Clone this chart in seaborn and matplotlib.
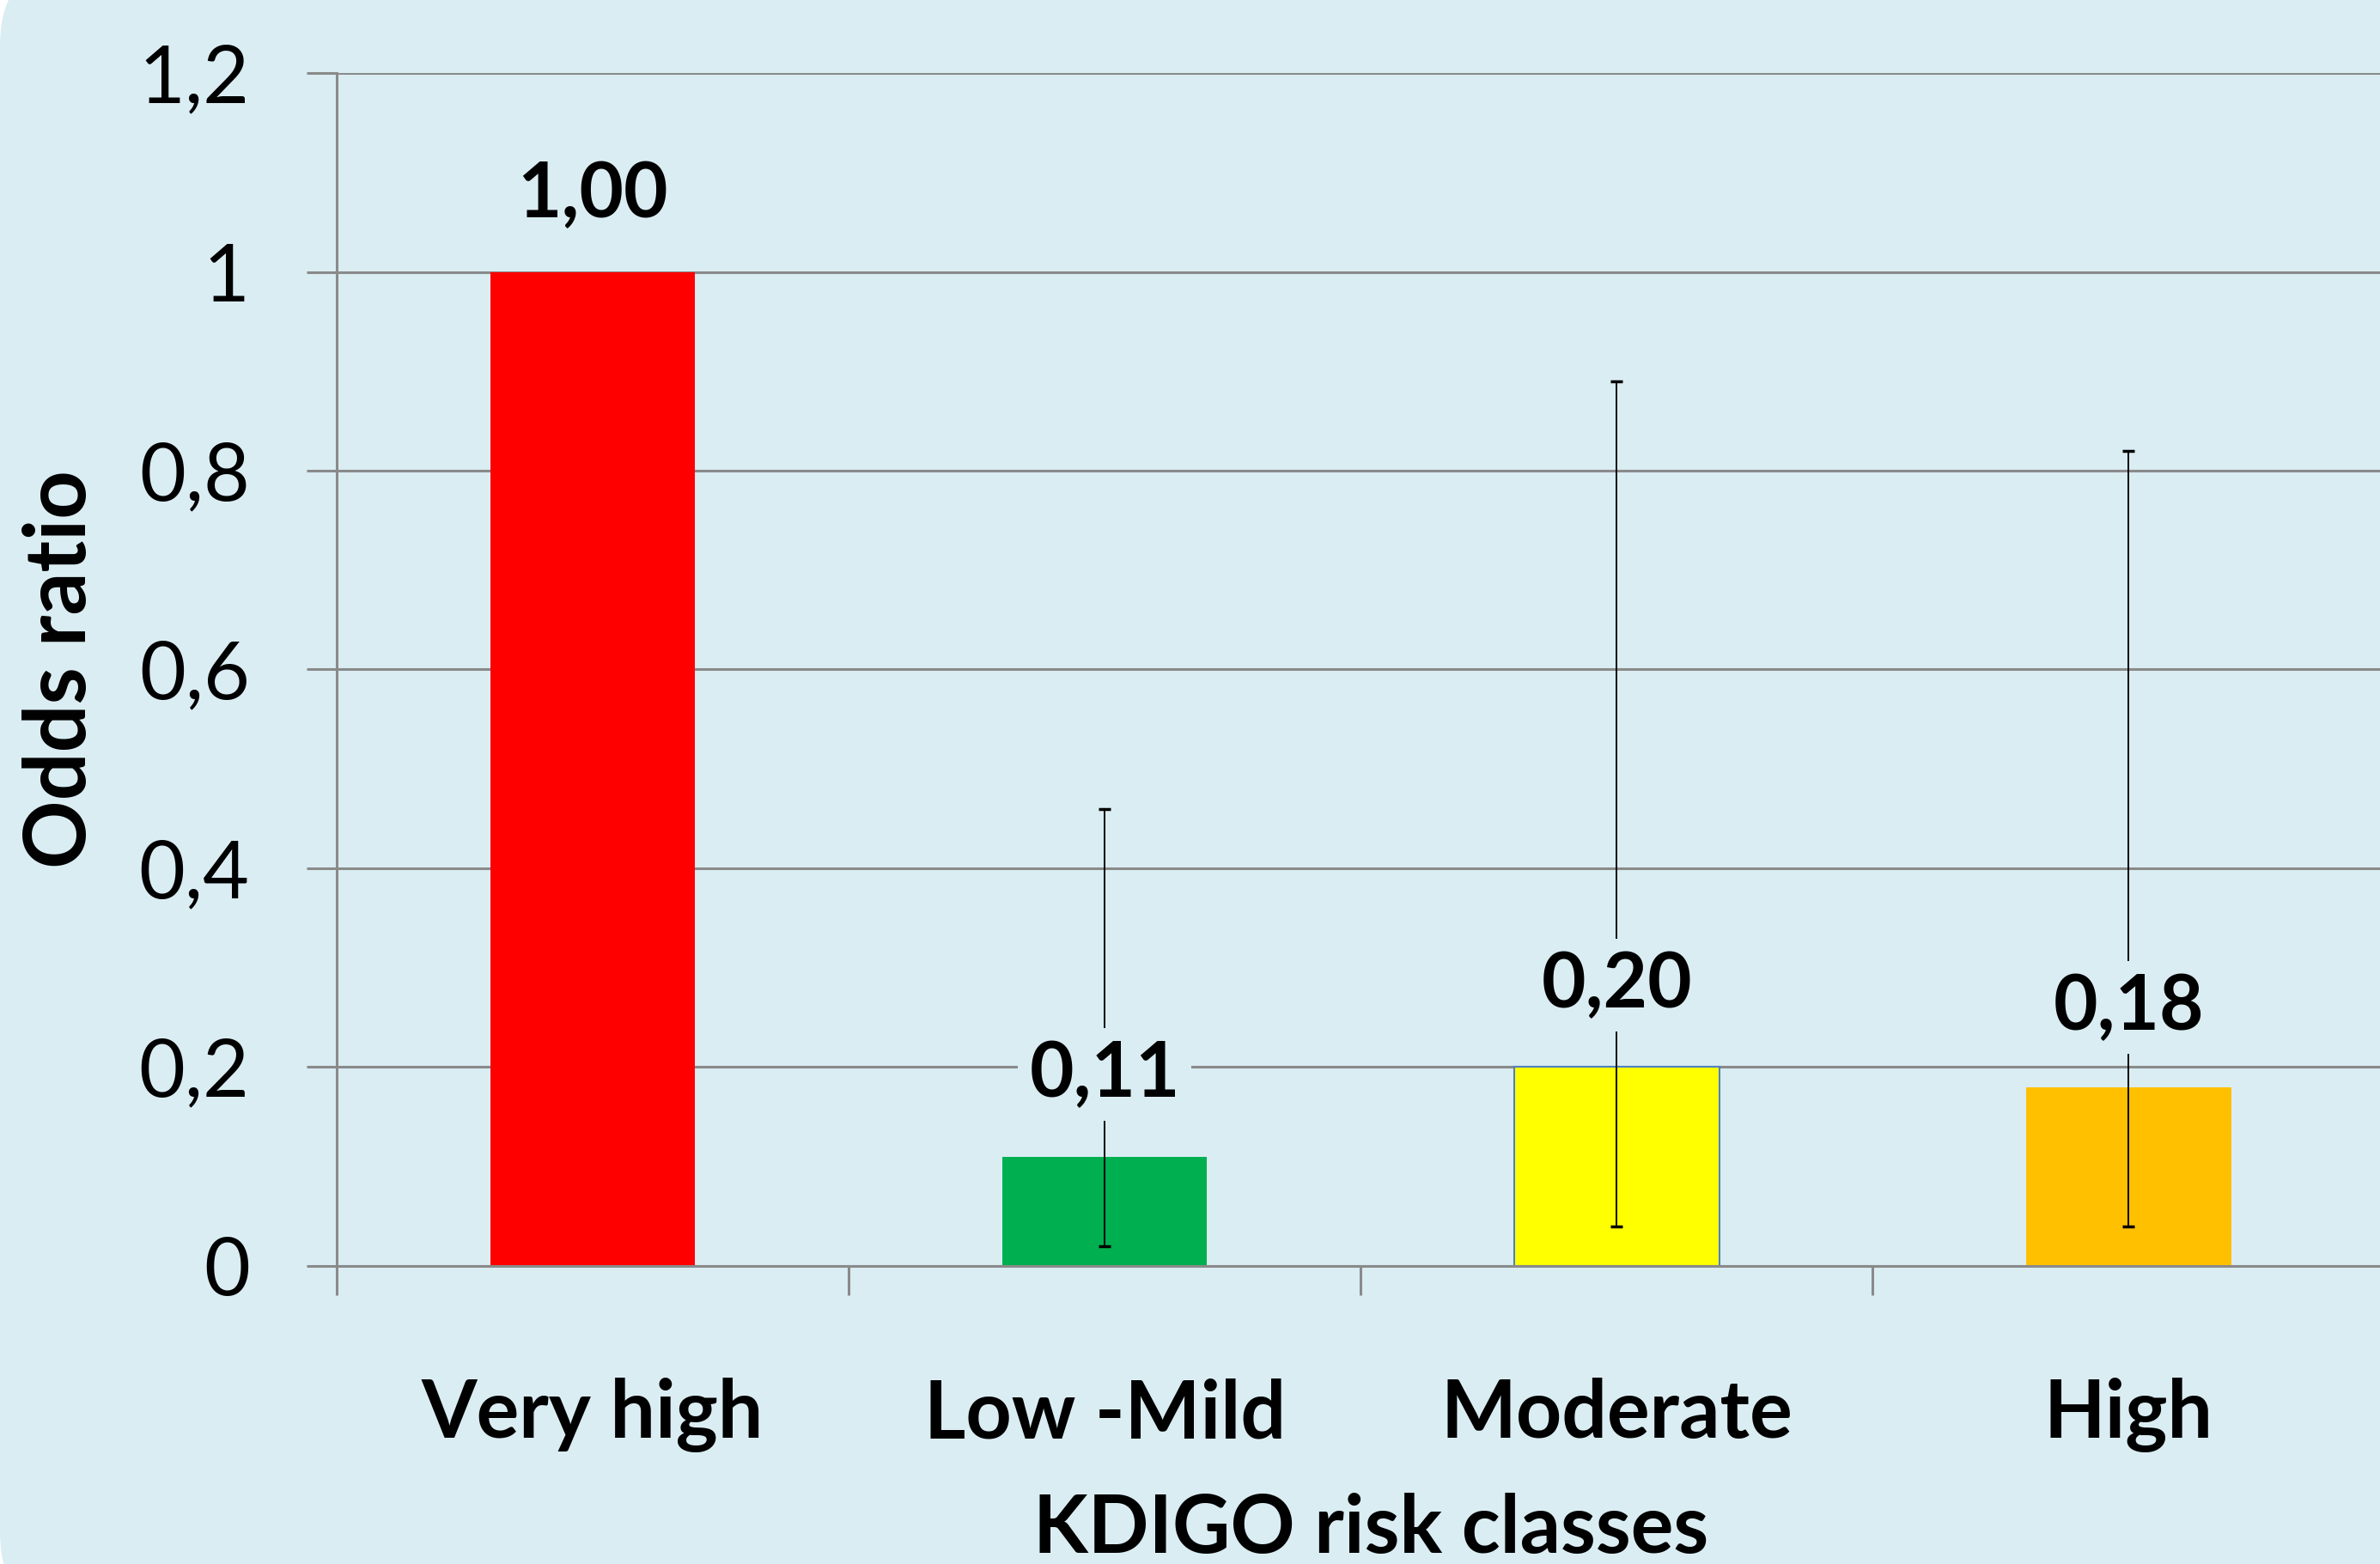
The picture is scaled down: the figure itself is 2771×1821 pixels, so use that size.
import numpy as np
import pandas as pd
import seaborn as sns
import matplotlib.pyplot as plt
from matplotlib.patches import FancyBboxPatch
from matplotlib.transforms import IdentityTransform

categories = ['Very high', 'Low -Mild', 'Moderate', 'High']
odds = [1.00, 0.11, 0.20, 0.18]
ci_low = [None, 0.02, 0.04, 0.04]
ci_high = [None, 0.46, 0.89, 0.82]
value_labels = ['1,00', '0,11', '0,20', '0,18']
colors = ['#FF0000', '#00B050', '#FFFF00', '#FFC000']
yticks = [0, 0.2, 0.4, 0.6, 0.8, 1.0, 1.2]
ytick_labels = ['0', '0,2', '0,4', '0,6', '0,8', '1', '1,2']

bg = '#DAEDF3'
grid_col = '#8A8A8A'

sns.set_style('white')
plt.rcParams['font.family'] = ['Lato', 'DejaVu Sans']
plt.rcParams['text.color'] = 'black'
plt.rcParams['axes.labelcolor'] = 'black'
plt.rcParams['xtick.color'] = 'black'
plt.rcParams['ytick.color'] = 'black'

fig = plt.figure(figsize=(27.71, 18.21), dpi=100, facecolor='white')
# rounded light-blue panel behind the chart
panel = FancyBboxPatch((0, -63), 3100, 1931, boxstyle='round,pad=0,rounding_size=100',
                       transform=IdentityTransform(), fc=bg, ec='none', zorder=-10)
fig.patches.append(panel)

ax = fig.add_axes([0.1415, 0.1906, 0.8605, 0.7627])
ax.set_facecolor('none')

df = pd.DataFrame({'cls': categories, 'odds': odds})
sns.barplot(data=df, x='cls', y='odds', hue='cls', palette=colors, legend=False,
            width=0.4, saturation=1, errorbar=None, ax=ax, zorder=2)
for p in ax.patches:
    p.set_edgecolor('none')
ax.patches[2].set_edgecolor('#4F81BD')
ax.patches[2].set_linewidth(1.5)

# confidence intervals
idx = [i for i in range(len(categories)) if ci_low[i] is not None]
y = np.array([odds[i] for i in idx])
lo = np.array([ci_low[i] for i in idx])
hi = np.array([ci_high[i] for i in idx])
ax.errorbar(idx, y, yerr=[y - lo, hi - y], fmt='none', ecolor='black',
            elinewidth=1.4, capsize=4.7, capthick=2.5, zorder=3)

offsets = [46, 50, 50, 48]
for i, (v, lab) in enumerate(zip(odds, value_labels)):
    ax.annotate(lab, (i, v), xytext=(0, offsets[i]), textcoords='offset points',
                ha='center', va='baseline', fontsize=64, fontweight='bold',
                color='black',
                bbox=dict(boxstyle='square,pad=0.15', fc=bg, ec='none'), zorder=4)

ax.set_ylim(0, 1.2)
ax.set_xlim(-0.5, 3.5)
ax.set_yticks(yticks)
ax.set_yticklabels(ytick_labels)
ax.yaxis.grid(True, color=grid_col, lw=2.2)
ax.set_axisbelow(True)

for s in ['top', 'right']:
    ax.spines[s].set_visible(False)
for s in ['left', 'bottom']:
    ax.spines[s].set_color(grid_col)
    ax.spines[s].set_linewidth(2.2)

ax.tick_params(axis='y', left=True, direction='out', length=25, width=2.2,
               color=grid_col, labelcolor='black', labelsize=67, pad=48)
ax.set_xticks(range(len(categories)))
ax.set_xticklabels(categories, fontweight='bold')
ax.set_xticks([-0.5, 0.5, 1.5, 2.5, 3.5], minor=True)
ax.tick_params(axis='x', which='major', bottom=True, length=0, labelsize=67,
               labelcolor='black', pad=94)
ax.tick_params(axis='x', which='minor', bottom=True, direction='out', length=24.5,
               width=2.2, color=grid_col)

ax.set_ylabel('Odds ratio', fontsize=71, fontweight='bold', color='black')
ax.yaxis.set_label_coords(-0.1153, 0.5)
ax.set_xlabel('KDIGO risk classes', fontsize=67, fontweight='bold', color='black')
ax.xaxis.label.set_va('baseline')
ax.xaxis.set_label_coords(0.505, -0.2405)

fig.savefig('out.png', dpi=100, facecolor=fig.get_facecolor())
